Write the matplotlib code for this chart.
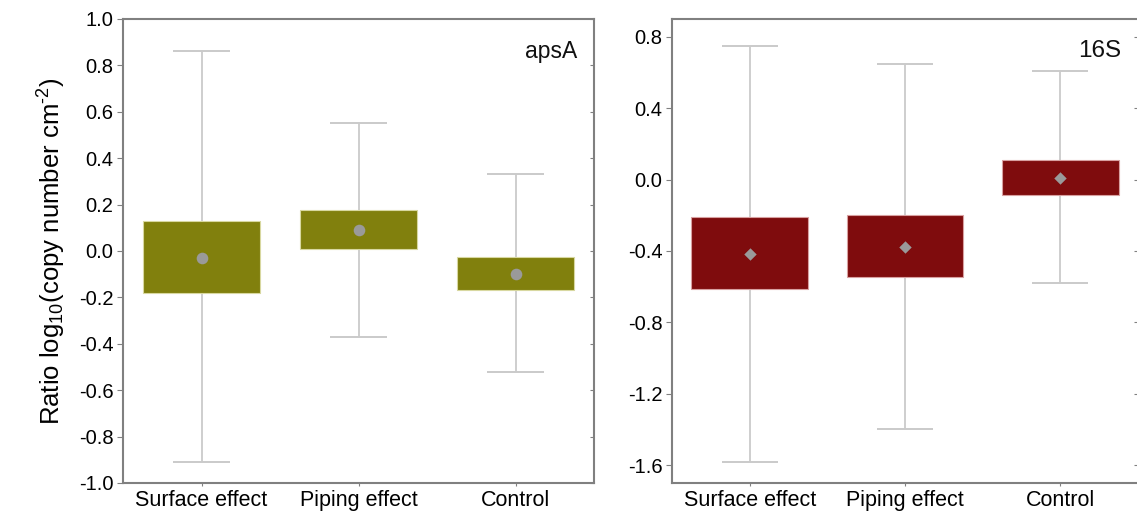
import matplotlib
matplotlib.use("Agg")
import matplotlib.pyplot as plt

plt.rcParams["font.family"] = ["Liberation Sans", "DejaVu Sans"]
plt.rcParams["mathtext.fontset"] = "custom"
plt.rcParams["mathtext.rm"] = "Liberation Sans"
plt.rcParams["mathtext.it"] = "Liberation Sans:italic"

categories = ["Surface effect", "Piping effect", "Control"]

# apsA panel
aps_mean = [-0.03, 0.09, -0.10]
aps_box_lo = [-0.18, 0.01, -0.17]
aps_box_hi = [0.13, 0.175, -0.025]
aps_wh_lo = [-0.91, -0.37, -0.52]
aps_wh_hi = [0.86, 0.55, 0.33]

# 16S panel
s16_mean = [-0.415, -0.375, 0.01]
s16_box_lo = [-0.615, -0.548, -0.085]
s16_box_hi = [-0.21, -0.20, 0.11]
s16_wh_lo = [-1.58, -1.40, -0.577]
s16_wh_hi = [0.75, 0.65, 0.61]

W, H = 1137, 513
fig = plt.figure(figsize=(W / 100, H / 100), dpi=100)
ax1 = fig.add_axes([123 / W, 30 / H, 471 / W, 464 / H])
ax2 = fig.add_axes([672 / W, 30 / H, 466 / W, 464 / H])

SPINE = "#808080"
WHISK = "#cacaca"


def panel(ax, mean, blo, bhi, wlo, whi, color, edge, marker, ms, label, lsize):
    x = list(range(len(categories)))
    ax.vlines(x, wlo, whi, color=WHISK, lw=1.3, zorder=1)
    ax.hlines(wlo, [i - 0.18 for i in x], [i + 0.18 for i in x], color=WHISK, lw=1.4, zorder=1)
    ax.hlines(whi, [i - 0.18 for i in x], [i + 0.18 for i in x], color=WHISK, lw=1.4, zorder=1)
    ax.bar(x, [h - l for h, l in zip(bhi, blo)], bottom=blo, width=0.75,
           color=color, edgecolor=edge, lw=0.8, zorder=2)
    ax.scatter(x, mean, marker=marker, s=ms, color="#9a9a9a", zorder=3, lw=0)
    ax.set_xlim(-0.5, 2.5)
    ax.set_xticks(x)
    ax.set_xticklabels(categories, fontsize=15.5)
    for s in ax.spines.values():
        s.set_color(SPINE); s.set_linewidth(1.5)
    ax.tick_params(axis="y", direction="out", length=4, color=SPINE, labelsize=14.5, pad=3)
    ax.tick_params(axis="x", direction="out", length=2, color=SPINE, pad=3)
    # small inward ticks on the right spine
    sec = ax.secondary_yaxis("right")
    sec.set_yticks(ax.get_yticks())
    sec.tick_params(direction="in", length=3, color=SPINE, labelright=False)
    sec.spines["right"].set_visible(False)
    ax.text(0.965, 0.93, label, transform=ax.transAxes, ha="right", va="center",
            fontsize=lsize, color="#111111")


ax1.set_ylim(-1.0, 1.0)
ax1.set_yticks([-1.0 + 0.2 * i for i in range(11)])
ax1.set_yticklabels([f"{-1.0 + 0.2 * i:.1f}" for i in range(11)])
panel(ax1, aps_mean, aps_box_lo, aps_box_hi, aps_wh_lo, aps_wh_hi,
      "#81800d", "#d8d8a0", "o", 70, "apsA", 16.5)
ax1.set_ylabel("Ratio log$_{10}$(copy number cm$^{\u2010 2}$)", fontsize=18.5, labelpad=8)

ax2.set_ylim(-1.7, 0.9)
ax2.set_yticks([-1.6 + 0.4 * i for i in range(7)])
ax2.set_yticklabels([f"{-1.6 + 0.4 * i:.1f}" for i in range(7)])
panel(ax2, s16_mean, s16_box_lo, s16_box_hi, s16_wh_lo, s16_wh_hi,
      "#7f0c0d", "#d8a0a0", "D", 40, "16S", 17.5)

fig.savefig("out.png", dpi=100)
